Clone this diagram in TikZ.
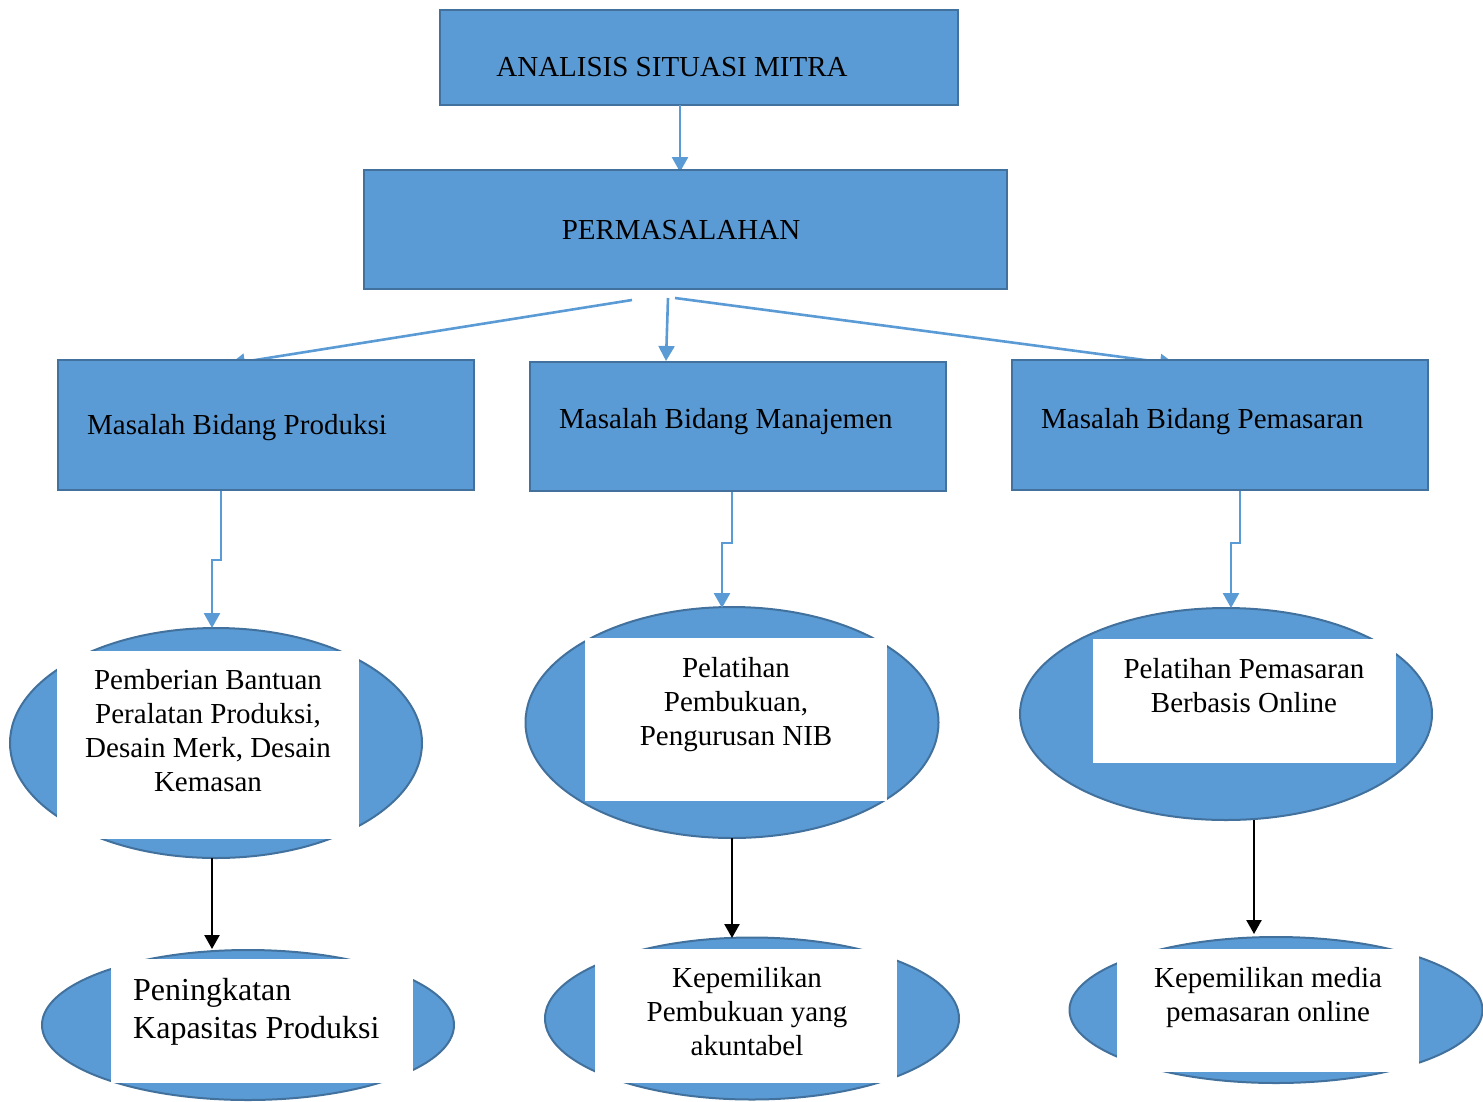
\documentclass[tikz,border=0pt]{standalone}
\usepackage{fontspec}
\setmainfont{Liberation Serif}
\usetikzlibrary{arrows.meta,shapes.geometric,calc}
\definecolor{fillblue}{HTML}{5B9BD5}
\definecolor{edgeblue}{HTML}{41719C}
\begin{document}
\begin{tikzpicture}[x=1pt,y=-1pt,
  box/.style={draw=edgeblue, fill=fillblue, line width=2pt, rectangle, inner sep=0pt},
  oval/.style={draw=edgeblue, fill=fillblue, line width=2pt, ellipse, inner sep=0pt},
  whitebox/.style={fill=white, rectangle, inner sep=0pt},
  txt/.style={font=\fontsize{29}{34}\selectfont, inner sep=0pt, align=center},
  bigtxt/.style={font=\fontsize{32}{38}\selectfont, inner sep=0pt, align=left},
  bluearrow/.style={draw=fillblue, line width=2.6pt, -{Triangle[width=16pt,length=15pt]}},
  blackarrow/.style={draw=black, line width=2.4pt, -{Triangle[width=15pt,length=14pt]}}]
\useasboundingbox (0,0) rectangle (1483,1101);

% connectors behind boxes
\coordinate (pl) at (632,300);
\coordinate (pm) at (668,298);
\coordinate (pr) at (675,298);
\coordinate (m1top) at (230,364);
\coordinate (m3top) at (1175,364);
\draw[bluearrow] (pl) -- (m1top);
\draw[bluearrow] (pr) -- (m3top);

% top boxes
\node[box, minimum width=518pt, minimum height=95pt] (A) at (699,57.5) {};
\node[txt, anchor=base] (tA) at (672,76) {ANALISIS SITUASI MITRA};
\draw[bluearrow] (680,105) -- (680,172);
\node[box, minimum width=643pt, minimum height=119pt] (P) at (685.5,229.5) {};
\node[txt, anchor=base] (tP) at (681,239) {PERMASALAHAN};

\node[box, minimum width=416pt, minimum height=130pt] (M1) at (266,425) {};
\node[txt, anchor=base west] (tM1) at (87,434) {Masalah Bidang Produksi};
\node[box, minimum width=416pt, minimum height=129pt] (M2) at (738,426.5) {};
\node[txt, anchor=base west] (tM2) at (559,428) {Masalah Bidang Manajemen};
\node[box, minimum width=416pt, minimum height=130pt] (M3) at (1220,425) {};
\node[txt, anchor=base west] (tM3) at (1041,428) {Masalah Bidang Pemasaran};

\draw[bluearrow] (pm) -- (666,361);

% ellipses row 1
\node[oval, minimum width=412pt, minimum height=230pt] (E1) at (216,743) {};
\node[whitebox, minimum width=302pt, minimum height=188pt] (W1) at (208,745) {};
\node[txt] (t1) at (208,731) {Pemberian Bantuan\\Peralatan Produksi,\\Desain Merk, Desain\\Kemasan};

\node[oval, minimum width=413pt, minimum height=231pt] (E2) at (732,722.5) {};
\node[whitebox, minimum width=302pt, minimum height=163pt] (W2) at (736,719.5) {};
\node[txt] (t2) at (736,705) {Pelatihan\\Pembukuan,\\Pengurusan NIB};

\node[oval, minimum width=412pt, minimum height=212pt] (E3) at (1226,714) {};
\node[whitebox, minimum width=303pt, minimum height=124pt] (W3) at (1244.5,701) {};
\node[txt] (t3) at (1244,685.5) {Pelatihan Pemasaran\\Berbasis Online};

% ellipses row 2
\node[oval, minimum width=412pt, minimum height=150pt] (E4) at (248,1025) {};
\node[whitebox, minimum width=302pt, minimum height=124pt] (W4) at (262,1021) {};
\node[bigtxt, anchor=west] (t4) at (133,1012) {Peningkatan\\Kapasitas Produksi};

\node[oval, minimum width=414pt, minimum height=162pt] (E5) at (752,1018.5) {};
\node[whitebox, minimum width=302pt, minimum height=134pt] (W5) at (746,1016) {};
\node[txt] (t5) at (747,1012) {Kepemilikan\\Pembukuan yang\\akuntabel};

\node[oval, minimum width=413pt, minimum height=146pt] (E6) at (1276,1010) {};
\node[whitebox, minimum width=302pt, minimum height=123pt] (W6) at (1268,1010.5) {};
\node[txt] (t6) at (1268,998) {Kepemilikan media\\pemasaran online};

% elbow connectors
\draw[bluearrow] (221,491) -- (221,560) -- (212,560) -- (212,628);
\draw[bluearrow] (732,492) -- (732,543) -- (722,543) -- (722,608);
\draw[bluearrow] (1240,491) -- (1240,543) -- (1231,543) -- (1231,608);

% black arrows
\draw[blackarrow] (212,858) -- (212,949);
\draw[blackarrow] (732,838) -- (732,938);
\draw[blackarrow] (1254,820) -- (1254,934);
\end{tikzpicture}
\end{document}
